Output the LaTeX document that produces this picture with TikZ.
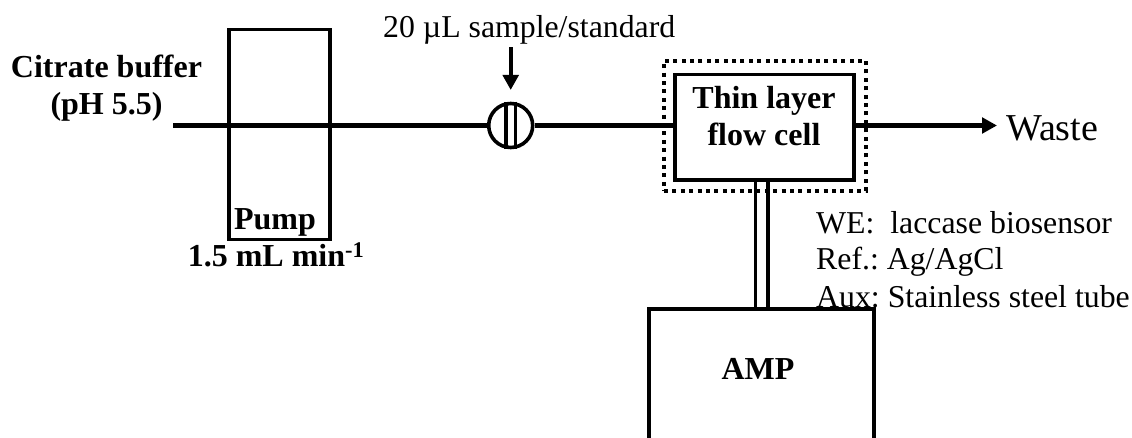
\documentclass[tikz,border=0pt]{standalone}
\usepackage{fontspec}
\setmainfont{Liberation Serif}
\usetikzlibrary{arrows.meta}
\tikzset{
  box/.style={draw=black,line width=3.8pt,rectangle,inner sep=0pt,fill=none},
  pipe/.style={draw=black,line width=4.4pt},
  wire/.style={draw=black,line width=3.8pt},
  dotbox/.style={draw=black,line width=4pt,rectangle,inner sep=0pt,dash pattern=on 4pt off 4.4pt},
  lbl/.style={inner sep=0pt,anchor=base west,font=\fontsize{31.8}{32}\selectfont},
  blbl/.style={inner sep=0pt,anchor=base,font=\fontsize{32}{32}\selectfont\bfseries},
  tip/.style={-{Triangle[length=15pt,width=15.5pt]}}
}
\begin{document}
\frenchspacing
\begin{tikzpicture}[x=1pt,y=-1pt]
\useasboundingbox (0,0) rectangle (1132,438);
% boxes
\node[box,minimum width=101pt,minimum height=210pt] (pump) at (279.5,134.5) {};
\node[dotbox,minimum width=202pt,minimum height=130pt] (dots) at (765,125.7) {};
\node[box,minimum width=179pt,minimum height=105.5pt] (cell) at (764.5,127.3) {};
\node[box,minimum width=225.5pt,minimum height=155pt] (amp) at (761.5,386.5) {};
\node[draw=black,line width=3.6pt,circle,inner sep=0pt,minimum size=44pt] (valve) at (510.7,125.5) {};
% pipe
\coordinate (inlet) at (173,125.5);
\coordinate (wasteend) at (997,125.5);
\coordinate (inject) at (510.7,47.5);
\draw[pipe] (inlet) -- (valve.west);
\draw[pipe] (valve.east) -- (valve.east -| cell.west);
\draw[pipe,tip] (valve.east -| cell.east) -- (wasteend);
\draw[draw=black,line width=4pt,tip] (inject) -- (valve.north |- 0,90);
% valve bars
\draw[draw=black,line width=3.4pt] ([xshift=-4.6pt]valve.north) -- ([xshift=-4.6pt]valve.south);
\draw[draw=black,line width=3.4pt] ([xshift=4.6pt]valve.north) -- ([xshift=4.6pt]valve.south);
% electrode leads
\draw[wire] ([xshift=-9pt]cell.south) -- ([xshift=-9pt]cell.south |- amp.north);
\draw[wire] ([xshift=3.5pt]cell.south) -- ([xshift=3.5pt]cell.south |- amp.north);
% labels
\node[blbl] (citrate) at (106.5,78) {Citrate buffer};
\node[blbl] (ph) at (106.5,115) {(pH 5.5)};
\node[blbl] (pumplbl) at (275,229.5) {Pump};
\node[blbl] (rate) at (276,267) {1.5 mL min\textsuperscript{-1}};
\node[lbl] (sample) at (383,38) {20 µL sample/standard};
\node[blbl] (thin) at (764,108.5) {Thin layer};
\node[blbl] (flow) at (764,145.5) {flow cell};
\node[lbl,font=\fontsize{38}{38}\selectfont] (waste) at (1006,141) {Waste};
\node[lbl] (we) at (816,233.5) {WE:\ \ laccase biosensor};
\node[lbl] (ref) at (816,269.5) {Ref.: Ag/AgCl};
\node[lbl] (aux) at (816,307.5) {Aux: Stainless steel tube};
\node[blbl] (amplbl) at (758,379) {AMP};
\end{tikzpicture}
\end{document}
